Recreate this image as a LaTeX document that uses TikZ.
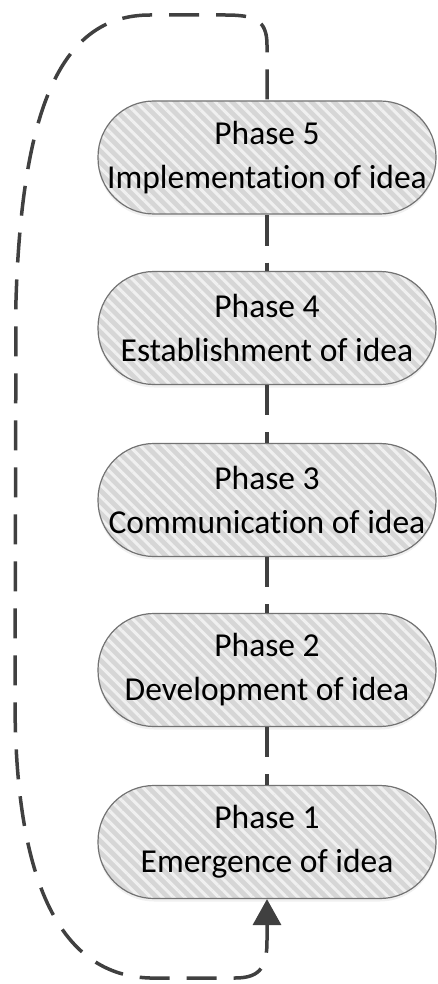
\documentclass[tikz,border=0pt]{standalone}
\usepackage{fontspec}
\setmainfont[Ligatures=NoCommon]{Carlito}
\usepackage{tikz}
\usetikzlibrary{arrows.meta,patterns.meta,shadows}
\definecolor{myfill}{rgb}{0.84,0.84,0.84}
\definecolor{mystripe}{rgb}{0.94,0.94,0.94}
\definecolor{myedge}{rgb}{0.45,0.45,0.45}
\definecolor{mydash}{rgb}{0.25,0.25,0.25}
\tikzset{
  phase/.style={rectangle,rounded corners=56pt,draw=myedge,line width=1.2pt,
    drop shadow={shadow xshift=0pt,shadow yshift=-3pt,opacity=0.12},
    preaction={fill=myfill},
    pattern={Lines[angle=-45,distance=8pt,line width=3pt]},pattern color=mystripe,
    minimum width=338pt,minimum height=113pt,inner sep=0pt,align=center,
    font=\fontsize{33.5}{44}\selectfont},
  link/.style={mydash,line width=3.5pt,dash pattern=on 30pt off 17pt}
}

\begin{document}
\begin{tikzpicture}[x=1pt,y=-1pt]
  \useasboundingbox (0,0) rectangle (437,984);
  % the five phases, bottom to top
  \node[phase] (n5) at (267,157.5) {Phase 5\\Implementation of idea};
  \node[phase] (n4) at (267,328)   {Phase 4\\Establishment of idea};
  \node[phase] (n3) at (267,500)   {Phase 3\\Communication of idea};
  \node[phase] (n2) at (267,670)   {Phase 2\\Development of idea};
  \node[phase] (n1) at (267,842)   {Phase 1\\Emergence of idea};
  % links up the column
  \draw[link] (n2) -- (n1);
  \draw[link] (n3) -- (n2);
  \draw[link] (n4) -- (n3);
  \draw[link] (n5) -- (n4);
  % feedback loop from phase 5 back round to phase 1
  \draw[link,-{Triangle[length=26pt,width=28pt]}] (n5.north) -- (267,45)
    .. controls (267,20) and (255,15) .. (225,15) -- (150,15)
    .. controls (60,15) and (22,110) .. (16,300) -- (15,700)
    .. controls (15,860) and (50,975) .. (150,978) -- (235,978)
    .. controls (262,978) and (267,965) .. (267,940) -- (n1.south);
\end{tikzpicture}
\end{document}
